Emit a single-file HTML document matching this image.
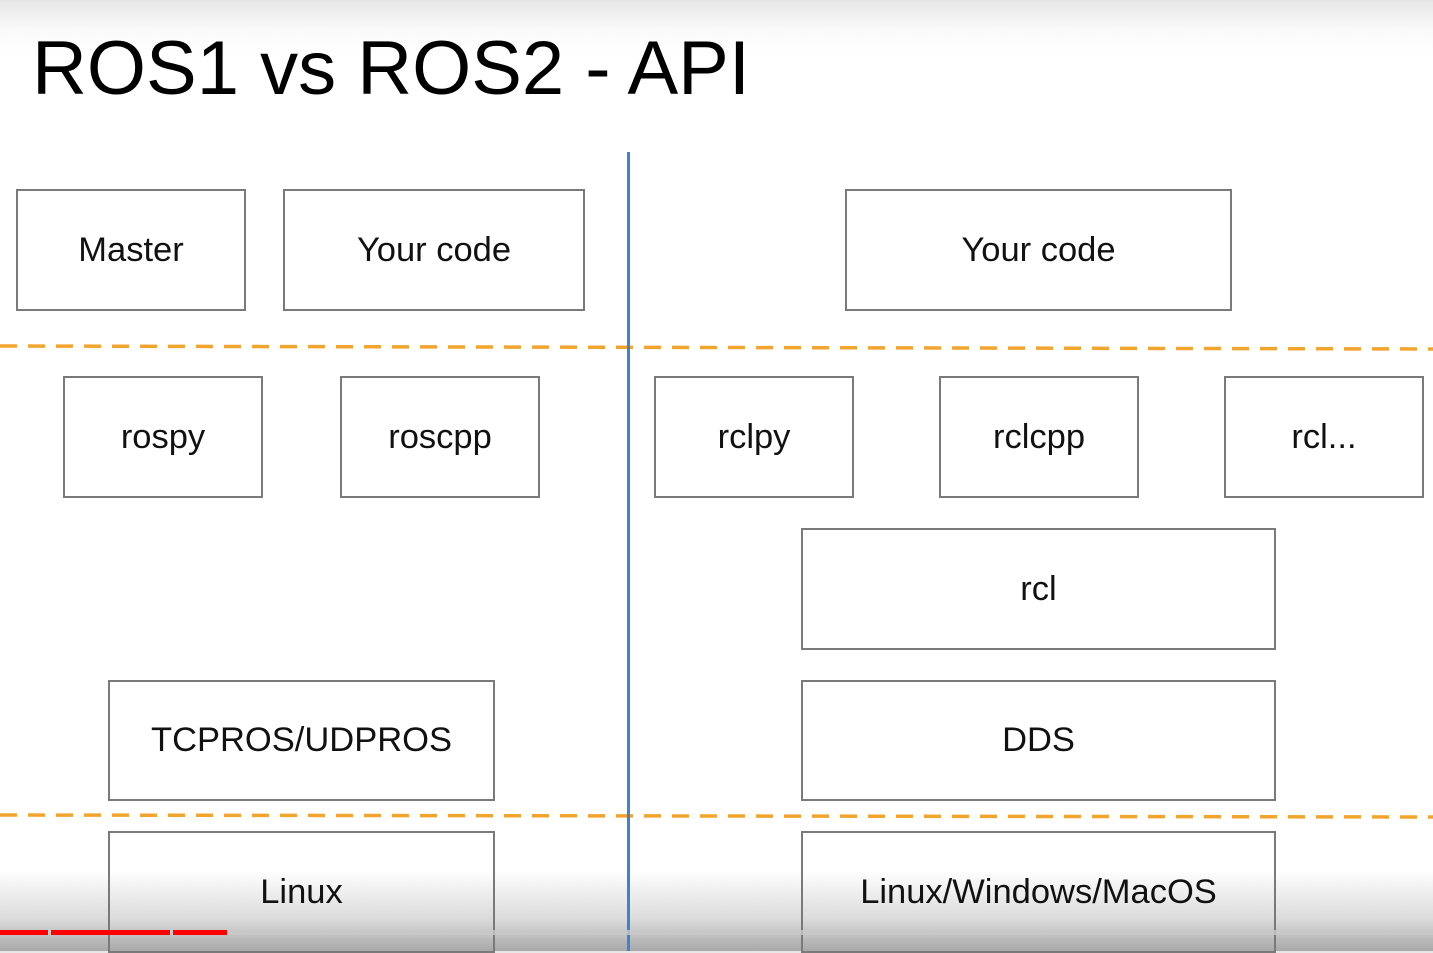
<!DOCTYPE html>
<html><head><meta charset="utf-8"><style>
body{margin:0;width:1433px;height:951px;overflow:hidden;position:relative;font-family:"Liberation Sans",Arial,sans-serif;background:linear-gradient(#e6e6e6 0px,#fafafa 30px,#fff 60px,#fff 870px,#dadada 920px,#a8a8a8 951px);}
.b{position:absolute;box-sizing:border-box;border:2px solid #7a7a7a;display:flex;align-items:center;justify-content:center;font-size:34.5px;color:#111;background:transparent}
.t{position:absolute;left:32px;top:25px;font-size:76px;color:#000;letter-spacing:0px}
</style></head><body>
<div class="t">ROS1 vs ROS2 - API</div>
<svg width="1433" height="951" style="position:absolute;left:0;top:0">
<line x1="0" y1="346" x2="1433" y2="349" stroke="#f2a52e" stroke-width="3.5" stroke-dasharray="17,11"/>
<line x1="0" y1="815" x2="1433" y2="817" stroke="#f2a52e" stroke-width="3.5" stroke-dasharray="17,11"/>
<line x1="628.5" y1="152" x2="628.5" y2="951" stroke="#3f82cf" stroke-width="3"/>
</svg>
<div class="b" style="left:16px;top:189px;width:230px;height:122px">Master</div>
<div class="b" style="left:283px;top:189px;width:302px;height:122px">Your code</div>
<div class="b" style="left:845px;top:189px;width:387px;height:122px">Your code</div>
<div class="b" style="left:63px;top:376px;width:200px;height:122px">rospy</div>
<div class="b" style="left:340px;top:376px;width:200px;height:122px">roscpp</div>
<div class="b" style="left:654px;top:376px;width:200px;height:122px">rclpy</div>
<div class="b" style="left:939px;top:376px;width:200px;height:122px">rclcpp</div>
<div class="b" style="left:1224px;top:376px;width:200px;height:122px">rcl...</div>
<div class="b" style="left:801px;top:528px;width:475px;height:122px">rcl</div>
<div class="b" style="left:108px;top:680px;width:387px;height:121px">TCPROS/UDPROS</div>
<div class="b" style="left:801px;top:680px;width:475px;height:121px">DDS</div>
<div class="b" style="left:108px;top:831px;width:387px;height:122px;align-items:flex-start;padding-top:40px">Linux</div>
<div class="b" style="left:801px;top:831px;width:475px;height:122px;align-items:flex-start;padding-top:40px">Linux/Windows/MacOS</div>
<div style="position:absolute;left:0;top:930px;width:1433px;height:5px;background:rgba(200,200,200,0.8)"></div>
<div style="position:absolute;left:0;top:930px;width:48px;height:5px;background:#f00"></div>
<div style="position:absolute;left:51px;top:930px;width:119px;height:5px;background:#f00"></div>
<div style="position:absolute;left:173px;top:930px;width:54px;height:5px;background:#f00"></div>
</body></html>
